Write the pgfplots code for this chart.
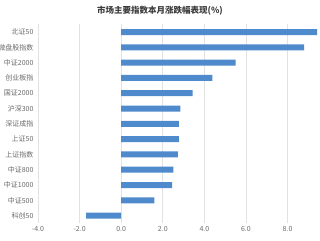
\documentclass[border=0pt]{standalone}
\usepackage{fontspec}
\setmainfont{Noto Sans CJK SC}
\usepackage{pgfplots}
\pgfplotsset{compat=1.18}
\definecolor{barblue}{RGB}{78,138,204}
\definecolor{labelgray}{RGB}{105,105,105}
\definecolor{gridgray}{RGB}{226,226,226}
\definecolor{titlegray}{RGB}{60,60,60}
\begin{document}
\begin{tikzpicture}
\useasboundingbox (0,0) rectangle (320pt,240pt);
\node[font=\fontsize{8.5}{10}\selectfont\bfseries, text=titlegray] at (160pt,229.5pt) {市场主要指数本月涨跌幅表现(\%)};
\begin{axis}[
  at={(38pt,16.7pt)}, anchor=south west,
  scale only axis, width=282pt, height=198.9pt,
  xbar, bar width=6pt,
  xmin=-4, xmax=9.56,
  ymin=-0.5, ymax=12.5,
  xtick={-4,-2,0,2,4,6,8},
  xticklabel style={/pgf/number format/.cd,fixed,fixed zerofill,precision=1},
  /pgf/number format/assume math mode=true,
  ytick={0,...,12},
  yticklabels={科创50,中证500,中证1000,中证800,上证指数,上证50,深证成指,沪深300,国证2000,创业板指,中证2000,微盘股指数,北证50},
  tick label style={font=\fontsize{7}{8}\selectfont, text=labelgray},
  yticklabel style={xshift=-1pt},
  major tick length=0pt,
  axis line style={draw=none},
  xmajorgrids, grid style={gridgray, line width=0.6pt},
  clip=false,
]
\addplot[fill=barblue, draw=none] coordinates {
  (-1.68,0) (1.59,1) (2.45,2) (2.51,3) (2.72,4) (2.77,5) (2.77,6)
  (2.84,7) (3.43,8) (4.39,9) (5.50,10) (8.80,11) (9.42,12)
};
\end{axis}
\end{tikzpicture}
\end{document}
